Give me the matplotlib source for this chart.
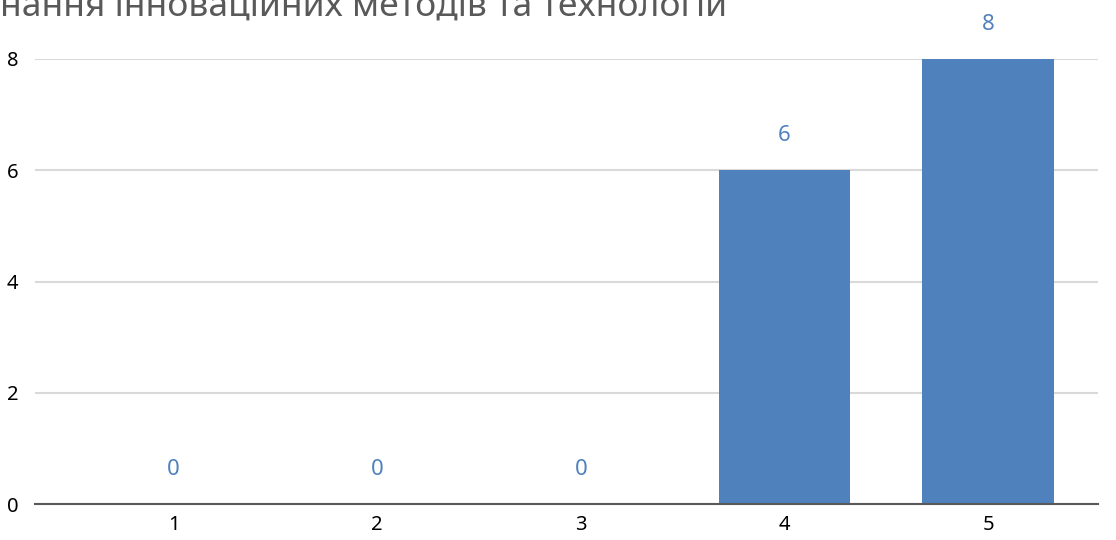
import matplotlib.pyplot as plt

# data
categories = ['1', '2', '3', '4', '5']
values = [0, 0, 0, 6, 8]
yticks = [0, 2, 4, 6, 8]
title = 'нання інноваційних методів та технологій'

bar_color = '#4F81BD'
plt.rcParams['font.family'] = ['Noto Sans', 'DejaVu Sans']

fig = plt.figure(figsize=(11.16, 5.4), dpi=100)
ax = fig.add_axes([35 / 1116, 1 - 504 / 540, (1098 - 35) / 1116, (504 - 59) / 540])

x = list(range(1, len(categories) + 1))
ax.bar(x, values, width=0.645, color=bar_color, zorder=3)

for xi, v in zip(x, values):
    ax.annotate(str(v), (xi, v), xytext=(0, 25), textcoords='offset points',
                ha='center', va='center', color=bar_color, fontsize=16,
                annotation_clip=False)

ax.set_xlim(0.32, 5.54)
ax.set_ylim(0, 8)
ax.set_xticks(x)
ax.set_xticklabels(categories)
ax.set_yticks(yticks)
ax.tick_params(length=0, labelsize=14.5, colors='black')
ax.tick_params(axis='y', pad=12)
ax.tick_params(axis='x', pad=8)

ax.grid(axis='y', color='#D9D9D9', linewidth=1.5, zorder=0)
for s in ['top', 'right', 'left']:
    ax.spines[s].set_visible(False)
ax.spines['bottom'].set_color('#595959')
ax.spines['bottom'].set_linewidth(1.5)
ax.spines['bottom'].set_zorder(4)

fig.text(0, 1 - 16 / 540, title, ha='left', va='baseline', fontsize=25.5,
         color='#595959')

fig.savefig('out.png', dpi=100)
